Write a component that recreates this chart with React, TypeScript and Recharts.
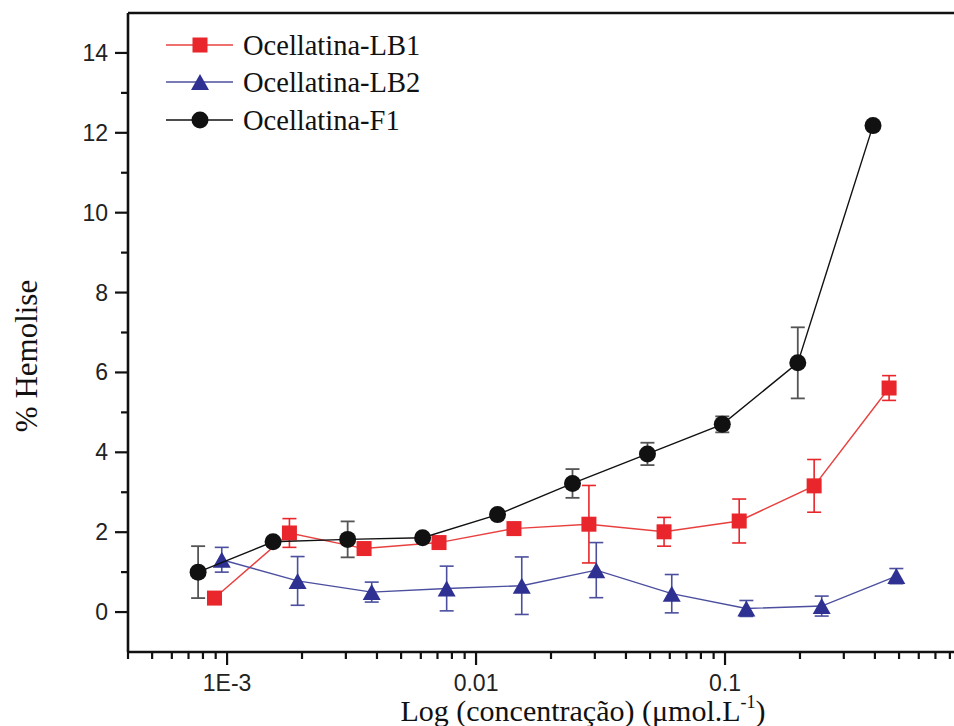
import React from 'react';
import { ComposedChart, Scatter, XAxis, YAxis, ErrorBar, ReferenceLine } from 'recharts';

// ---- Data ----
const seriesNames = ['Ocellatina-LB1', 'Ocellatina-LB2', 'Ocellatina-F1'];

const lb1Conc = [0.00089, 0.00178, 0.00355, 0.0071, 0.0142, 0.0284, 0.0569, 0.114, 0.228, 0.456];
const lb1Hemo = [0.35, 1.98, 1.59, 1.74, 2.09, 2.2, 2.01, 2.28, 3.16, 5.61];
const lb1Err = [0.05, 0.36, 0.15, 0.1, 0.1, 0.97, 0.36, 0.55, 0.66, 0.31];

const lb2Conc = [0.000952, 0.00192, 0.00381, 0.00762, 0.01526, 0.0304, 0.0611, 0.1218, 0.2445, 0.4876];
const lb2Hemo = [1.31, 0.78, 0.5, 0.59, 0.66, 1.05, 0.46, 0.09, 0.15, 0.9];
const lb2Err = [0.31, 0.61, 0.25, 0.56, 0.72, 0.69, 0.48, 0.2, 0.25, 0.19];

const f1Conc = [0.000765, 0.00153, 0.00305, 0.0061, 0.0122, 0.0244, 0.0488, 0.0975, 0.196, 0.393];
const f1Hemo = [1.0, 1.76, 1.82, 1.86, 2.44, 3.22, 3.96, 4.7, 6.24, 12.18];
const f1Err = [0.65, 0.1, 0.45, 0.05, 0.08, 0.36, 0.28, 0.2, 0.89, 0.05];

const xTicks = [
  0.0004, 0.0005, 0.0006, 0.0007, 0.0008, 0.0009,
  0.001, 0.002, 0.003, 0.004, 0.005, 0.006, 0.007, 0.008, 0.009,
  0.01, 0.02, 0.03, 0.04, 0.05, 0.06, 0.07, 0.08, 0.09,
  0.1, 0.2, 0.3, 0.4, 0.5, 0.6, 0.7, 0.8, 0.9, 1,
];
const xMajorTicks = [0.001, 0.01, 0.1, 1];
const xMajorLabels = ['1E-3', '0.01', '0.1', ''];
const yTicks = [0, 1, 2, 3, 4, 5, 6, 7, 8, 9, 10, 11, 12, 13, 14];
const yMajorTicks = [0, 2, 4, 6, 8, 10, 12, 14];

const yAxisTitle = '% Hemolise';
const xAxisTitle = 'Log (concentração) (μmol.L';
const xAxisTitleSup = '-1';

// ---- Styles ----
const RED = '#E8262B';
const RED_LINE = '#E8403F';
const BLUE = '#2E3192';
const BLUE_LINE = '#4B4F9E';
const BLACK = '#111111';
const BLACK_ERR = '#555555';
const SANS = '"Liberation Sans", Arial, sans-serif';
const SERIF = '"Liberation Serif", "Times New Roman", serif';

const build = (xs: number[], ys: number[], es: number[]) =>
  xs.map((x, i) => ({ x, y: ys[i], err: es[i] }));

const lb1Data = build(lb1Conc, lb1Hemo, lb1Err);
const lb2Data = build(lb2Conc, lb2Hemo, lb2Err);
const f1Data = build(f1Conc, f1Hemo, f1Err);

const SquareShape = (p: any) => (
  <rect x={p.cx - 7.5} y={p.cy - 7.5} width={15} height={15} fill={RED} />
);
const TriangleShape = (p: any) => (
  <path d={`M${p.cx},${p.cy - 8} L${p.cx + 9},${p.cy + 8} L${p.cx - 9},${p.cy + 8} Z`} fill={BLUE} />
);
const CircleShape = (p: any) => <circle cx={p.cx} cy={p.cy} r={8.5} fill={BLACK} />;

const XTick = (props: any) => {
  const { x, y, payload } = props;
  const v = payload.value;
  const idx = xMajorTicks.findIndex((m) => Math.abs(m - v) / m < 1e-6);
  const major = idx >= 0;
  const label = major ? xMajorLabels[idx] : '';
  return (
    <g>
      <line x1={x} y1={y} x2={x} y2={y + (major ? 13 : 7)} stroke="#111" strokeWidth={2.2} />
      {label !== '' && (
        <text x={x} y={y + 39} textAnchor="middle" fontFamily={SANS} fontSize={23} fill="#222">
          {label}
        </text>
      )}
    </g>
  );
};

const YTick = (props: any) => {
  const { x, y, payload } = props;
  const v = payload.value;
  const major = yMajorTicks.includes(v);
  return (
    <g>
      <line x1={x - (major ? 13 : 7)} y1={y} x2={x} y2={y} stroke="#111" strokeWidth={2.2} />
      {major && (
        <text x={x - 20} y={y + 8} textAnchor="end" fontFamily={SANS} fontSize={23} fill="#222">
          {String(v)}
        </text>
      )}
    </g>
  );
};

const legendRows = [
  { name: seriesNames[0], color: RED_LINE, shape: SquareShape, y: 45 },
  { name: seriesNames[1], color: BLUE_LINE, shape: TriangleShape, y: 82 },
  { name: seriesNames[2], color: BLACK, shape: CircleShape, y: 120 },
];

export default function App() {
  return (
    <div
      style={{
        position: 'absolute',
        left: 0,
        top: 0,
        width: 954,
        height: 726,
        overflow: 'hidden',
        background: '#fff',
      }}
    >
      <ComposedChart width={984} height={726} margin={{ top: 13, right: 10, bottom: 0, left: 0 }}>
        <XAxis
          dataKey="x"
          type="number"
          scale="log"
          domain={[0.0004, 1]}
          allowDataOverflow
          ticks={xTicks}
          interval={0}
          tickSize={0}
          tickMargin={0}
          tickLine={false}
          tick={<XTick />}
          height={74}
          axisLine={{ stroke: '#111', strokeWidth: 2.6 }}
        />
        <YAxis
          dataKey="y"
          type="number"
          domain={[-1, 15]}
          allowDataOverflow
          ticks={yTicks}
          interval={0}
          tickSize={0}
          tickMargin={0}
          tickLine={false}
          tick={<YTick />}
          width={128}
          axisLine={{ stroke: '#111', strokeWidth: 2.6 }}
        />
        <ReferenceLine y={15} stroke="#111" strokeWidth={2.6} ifOverflow="visible" />
        <Scatter
          name={seriesNames[0]}
          data={lb1Data}
          shape={SquareShape}
          line={{ stroke: RED_LINE, strokeWidth: 1.4 }}
          lineType="joint"
          isAnimationActive={false}
        >
          <ErrorBar dataKey="err" direction="y" width={7} stroke={RED} strokeWidth={1.6} />
        </Scatter>
        <Scatter
          name={seriesNames[1]}
          data={lb2Data}
          shape={TriangleShape}
          line={{ stroke: BLUE_LINE, strokeWidth: 1.4 }}
          lineType="joint"
          isAnimationActive={false}
        >
          <ErrorBar dataKey="err" direction="y" width={7} stroke={BLUE_LINE} strokeWidth={1.6} />
        </Scatter>
        <Scatter
          name={seriesNames[2]}
          data={f1Data}
          shape={CircleShape}
          line={{ stroke: BLACK, strokeWidth: 1.4 }}
          lineType="joint"
          isAnimationActive={false}
        >
          <ErrorBar dataKey="err" direction="y" width={7} stroke={BLACK_ERR} strokeWidth={1.8} />
        </Scatter>
      </ComposedChart>
      <svg
        width={954}
        height={726}
        style={{ position: 'absolute', left: 0, top: 0, pointerEvents: 'none' }}
      >
        {legendRows.map((r) => {
          const Shape = r.shape;
          return (
            <g key={r.name}>
              <line x1={166} y1={r.y} x2={233} y2={r.y} stroke={r.color} strokeWidth={1.4} />
              <Shape cx={200} cy={r.y} />
              <text x={243} y={r.y + 10} fontFamily={SERIF} fontSize={28.5} fill="#111">
                {r.name}
              </text>
            </g>
          );
        })}
        <text
          transform="translate(37,356) rotate(-90)"
          textAnchor="middle"
          fontFamily={SERIF}
          fontSize={31}
          fill="#111"
        >
          {yAxisTitle}
        </text>
        <text x={583} y={721} textAnchor="middle" fontFamily={SERIF} fontSize={30} fill="#111">
          {xAxisTitle}
          <tspan fontSize={18} dy={-13}>
            {xAxisTitleSup}
          </tspan>
          <tspan dy={13}>)</tspan>
        </text>
      </svg>
    </div>
  );
}
